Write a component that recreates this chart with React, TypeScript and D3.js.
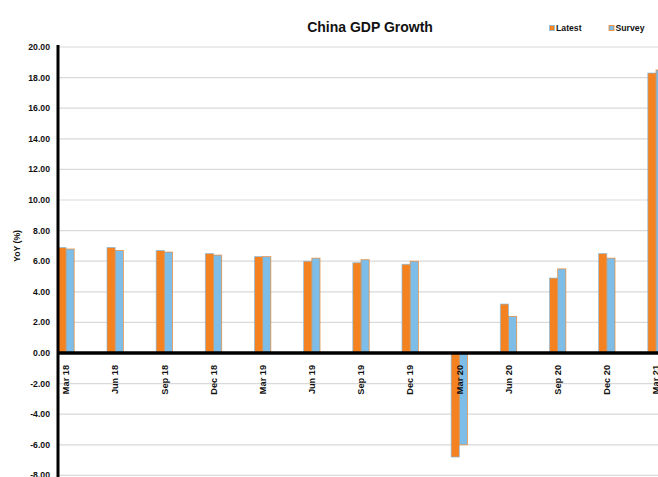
import React from "react";
import * as d3 from "d3";

const categories = ["Mar 18","Jun 18","Sep 18","Dec 18","Mar 19","Jun 19","Sep 19","Dec 19","Mar 20","Jun 20","Sep 20","Dec 20","Mar 21"];
const latest = [6.9, 6.9, 6.7, 6.5, 6.3, 6.0, 5.9, 5.8, -6.8, 3.2, 4.9, 6.5, 18.3];
const survey = [6.8, 6.7, 6.6, 6.4, 6.3, 6.2, 6.1, 6.0, -6.0, 2.4, 5.5, 6.2, 18.5];
const yTicks = [20, 18, 16, 14, 12, 10, 8, 6, 4, 2, 0, -2, -4, -6, -8];
const seriesNames = ["Latest", "Survey"];

const ORANGE = "#F58220";
const BLUE = "#7DBDE8";
const FONT = "Liberation Sans, Arial, sans-serif";

export default function App() {
  const W = 658, H = 477;
  const axisX = 58;
  const y = d3.scaleLinear().domain([-8, 20]).range([475.4, 47]);
  const x = d3.scalePoint<string>().domain(categories).range([66, 656]);
  const bw = 8.2;
  const y0 = y(0);
  return (
    <svg width={W} height={H} style={{ position: "absolute", left: 0, top: 0, background: "#fff" }} fontFamily={FONT}>
      <rect width={W} height={H} fill="#fff" />
      {yTicks.map((t) => (
        <g key={t}>
          {t !== 0 && (
            <line x1={axisX} x2={W} y1={y(t)} y2={y(t)} stroke="#D9D9D9" strokeWidth={1.2} />
          )}
          <text x={50} y={y(t)} dy="0.35em" textAnchor="end" fontSize={8.7} fontWeight="bold" fill="#111">
            {t.toFixed(2)}
          </text>
        </g>
      ))}
      {categories.map((c, i) => {
        const cx = x(c)!;
        const l = latest[i], s = survey[i];
        return (
          <g key={c}>
            <rect x={cx - bw} y={Math.min(y(l), y0)} width={bw} height={Math.abs(y(l) - y0)} fill={ORANGE} stroke={BLUE} strokeWidth={0.8} strokeOpacity={0.8} />
            <rect x={cx} y={Math.min(y(s), y0)} width={bw} height={Math.abs(y(s) - y0)} fill={BLUE} stroke={ORANGE} strokeWidth={0.8} strokeOpacity={0.8} />
          </g>
        );
      })}
      <line x1={axisX} x2={W} y1={y0} y2={y0} stroke="#000" strokeWidth={3.5} />
      <line x1={axisX} x2={axisX} y1={45} y2={H} stroke="#000" strokeWidth={3} />
      {categories.map((c) => (
        <text key={c} transform={`translate(${x(c)! + 3.2},${y0 + 12}) rotate(-90)`} textAnchor="end" fontSize={9.2} fontWeight="bold" fill="#111">
          {c}
        </text>
      ))}
      <text x={370} y={32} textAnchor="middle" fontSize={14} fontWeight="bold" fill="#111">China GDP Growth</text>
      <text transform={`translate(20,246) rotate(-90)`} textAnchor="middle" fontSize={8.7} fontWeight="bold" fill="#111">YoY (%)</text>
      {seriesNames.map((n, i) => {
        const lx = [549.5, 609][i];
        return (
          <g key={n}>
            <rect x={lx} y={25.5} width={5} height={5} fill={i === 0 ? ORANGE : BLUE} stroke={i === 0 ? BLUE : ORANGE} strokeWidth={0.8} />
            <text x={lx + 6.5} y={31} fontSize={8.7} fontWeight="bold" fill="#111">{n}</text>
          </g>
        );
      })}
    </svg>
  );
}
